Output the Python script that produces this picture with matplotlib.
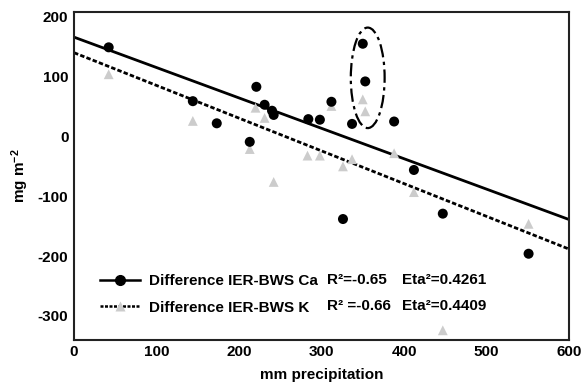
import matplotlib
matplotlib.use("Agg")
import matplotlib.pyplot as plt
import numpy as np
from matplotlib.patches import Ellipse
from matplotlib.lines import Line2D

plt.rcParams['font.family'] = ['Liberation Sans', 'DejaVu Sans']
plt.rcParams['font.weight'] = 'bold'
plt.rcParams['axes.unicode_minus'] = False
plt.rcParams['mathtext.fontset'] = 'custom'
plt.rcParams['mathtext.rm'] = 'Liberation Sans:bold'
plt.rcParams['mathtext.default'] = 'rm'

# Difference IER-BWS Ca (black circles)
ca_x = [42, 144, 173, 213, 221, 231, 240, 242, 284, 298, 312, 326, 337, 350, 353, 388, 412, 447, 551]
ca_y = [149, 59, 22, -9, 83, 53, 43, 36, 29, 28, 58, -138, 21, 155, 92, 25, -56, -129, -196]

# Difference IER-BWS K (grey triangles)
k_x = [42, 144, 213, 220, 231, 242, 283, 298, 312, 326, 337, 350, 353, 388, 412, 447, 551]
k_y = [104, 26, -21, 48, 31, -76, -32, -32, 51, -50, -38, 62, 42, -28, -93, -324, -146]

# regression lines (intercept, slope)
ca_fit = (166, -0.508)
k_fit = (140, -0.547)

stats = [("R²=-0.65", "Eta²=0.4261"), ("R² =-0.66", "Eta²=0.4409")]

fig = plt.figure(figsize=(5.83, 3.88), dpi=100)
ax = fig.add_axes([0.127, 0.124, 0.849, 0.845])

xs = np.array([0, 600])
dash = (0, (1.6, 0.8))
ax.plot(xs, ca_fit[0] + ca_fit[1] * xs, color='black', lw=2.0, zorder=2)
ax.plot(xs, k_fit[0] + k_fit[1] * xs, color='black', lw=2.0, linestyle=dash, zorder=2)

ax.scatter(k_x, k_y, marker='^', s=50, color='#cccccc', edgecolors='none', zorder=3)
ax.scatter(ca_x, ca_y, marker='o', s=52, color='black', edgecolors='none', zorder=4)

ax.add_patch(Ellipse((356, 98), 41, 168, fill=False, color='black', lw=1.6,
                     linestyle=(0, (6, 2, 1.5, 2)), zorder=5))

handles = [Line2D([], [], color='black', lw=1.8, marker='o', markersize=7),
           Line2D([], [], color='black', lw=1.8, linestyle=(0, (1.2, 0.6)),
                  marker='^', markersize=7, markerfacecolor='#cccccc', markeredgecolor='none')]
ax.legend(handles, ['Difference IER-BWS Ca', 'Difference IER-BWS K'],
          loc='upper left', bbox_to_anchor=(0.053, 0.2), frameon=False,
          fontsize=11, handlelength=2.6, handletextpad=0.6, labelspacing=0.82,
          borderpad=0, borderaxespad=0)

for i, (r2, eta) in enumerate(stats):
    yy = -240 - 44 * i
    ax.text(307, yy, r2, fontsize=11, fontweight='bold', va='center')
    ax.text(398, yy, eta, fontsize=11, fontweight='bold', va='center')

ax.set_xlim(0, 600)
ax.set_ylim(-340, 208)
ax.set_xticks([0, 100, 200, 300, 400, 500, 600])
ax.set_yticks([-300, -200, -100, 0, 100, 200])
ax.tick_params(length=0, labelsize=11, pad=4)
for lab in ax.get_xticklabels() + ax.get_yticklabels():
    lab.set_fontweight('bold')
for sp in ax.spines.values():
    sp.set_linewidth(1.5)
    sp.set_color('#222222')

ax.set_xlabel('mm precipitation', fontsize=11, fontweight='bold', labelpad=6)
ax.set_ylabel('mg m$^{-2}$', fontsize=11, fontweight='bold', labelpad=5)

fig.savefig('out.png', dpi=100)
